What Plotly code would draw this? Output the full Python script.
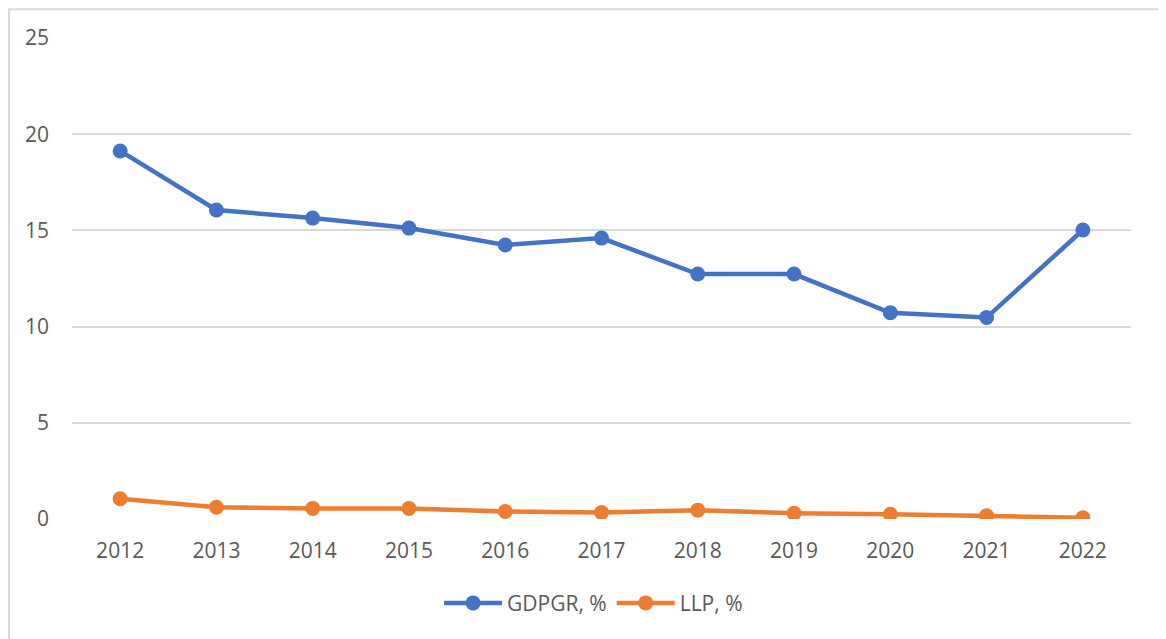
import plotly.graph_objects as go

years = ["2012", "2013", "2014", "2015", "2016", "2017", "2018", "2019", "2020", "2021", "2022"]
gdpgr = [19.13, 16.06, 15.64, 15.12, 14.24, 14.60, 12.73, 12.73, 10.72, 10.47, 15.02]
llp = [1.05, 0.61, 0.55, 0.55, 0.39, 0.34, 0.46, 0.30, 0.25, 0.17, 0.06]
y_ticks = [0, 5, 10, 15, 20, 25]

fig = go.Figure()
fig.add_trace(go.Scatter(x=years, y=gdpgr, name="GDPGR, %", mode="lines+markers",
                         line=dict(color="#4472C4", width=4.5),
                         marker=dict(size=15, color="#4472C4")))
fig.add_trace(go.Scatter(x=years, y=llp, name="LLP, %", mode="lines+markers",
                         line=dict(color="#ED7D31", width=4.5),
                         marker=dict(size=15, color="#ED7D31")))

fig.update_layout(
    width=1158, height=631,
    margin=dict(l=64, r=35, t=30, b=119.5),
    paper_bgcolor="white", plot_bgcolor="white",
    font=dict(family="Open Sans", size=21, color="#595959"),
    showlegend=True,
    legend=dict(orientation="h", x=0.4925, xanchor="center", y=-0.1325, yanchor="top",
                font=dict(size=21, color="#595959"), itemwidth=58),
    xaxis=dict(type="category", range=[-0.5, 10.5], showgrid=False, zeroline=False,
               showline=False, ticks="", ticklabelstandoff=17),
    yaxis=dict(range=[0, 25], tickvals=y_ticks, showgrid=True, gridcolor="#d9d9d9",
               gridwidth=1.5, zeroline=False, showline=False, ticks="",
               ticklabelstandoff=22),
    shapes=[dict(type="rect", xref="paper", yref="paper",
                 x0=(1 - 64) / 1059, x1=(1152 - 64) / 1059, y0=-0.3, y1=1.060,
                 line=dict(color="#d9d9d9", width=2), layer="below")],
)

fig.write_html("out.html")
